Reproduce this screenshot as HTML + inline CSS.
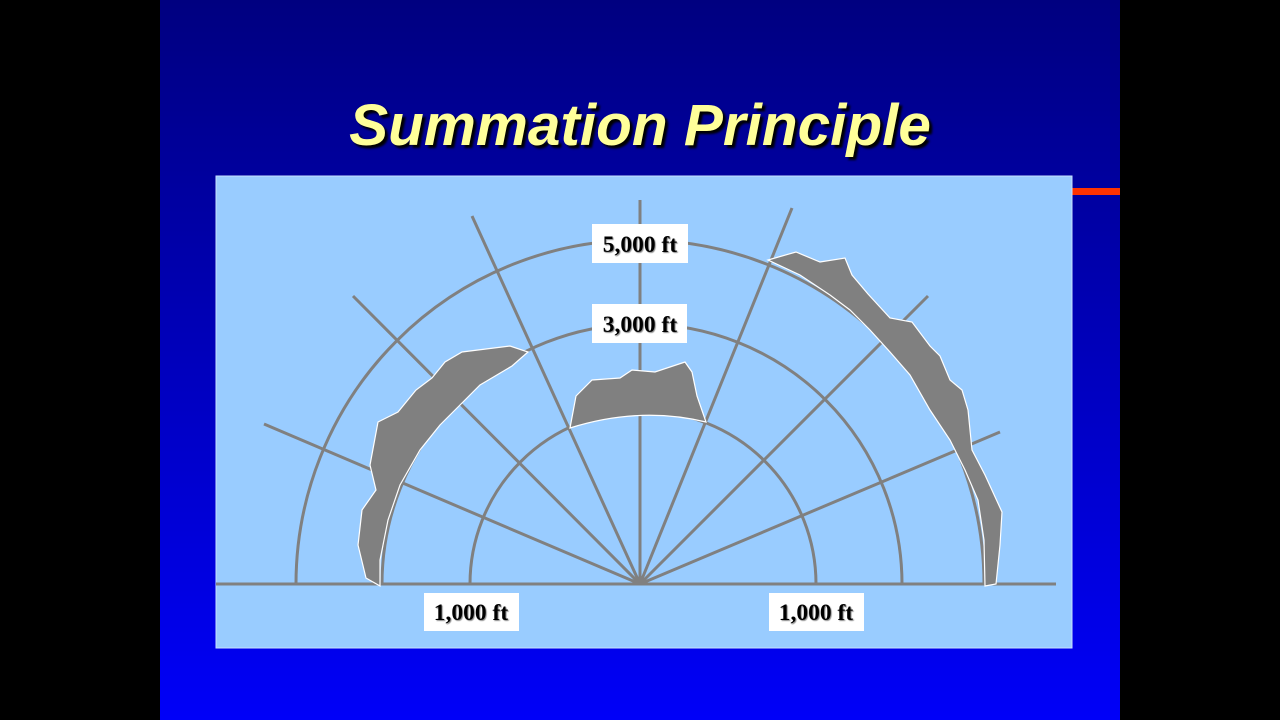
<!DOCTYPE html>
<html><head><style>
body{margin:0;width:1280px;height:720px;background:#000;overflow:hidden;position:relative}
#s{position:absolute;left:160px;top:0;width:960px;height:720px;background:linear-gradient(#000080,#0000f8)}
h1{position:absolute;left:160px;width:960px;top:92px;margin:0;text-align:center;font:italic bold 58.5px "Liberation Sans",sans-serif;color:#ffff99;text-shadow:3px 3px 2px #000}
</style></head><body>
<div id="s"></div>
<h1>Summation Principle</h1>
<div style="position:absolute;left:1072px;top:188px;width:48px;height:7px;background:#ff3300"></div>
<svg style="position:absolute;left:0;top:0" width="1280" height="720">
<rect x="216" y="176" width="856" height="472" fill="#99ccff" stroke="#c8e0ff" stroke-width="1"/>
<g stroke="#808080" stroke-width="3" fill="none">
<path d="M470 584 A173 173 0 0 1 816 584"/>
<path d="M382 584 A260 260 0 0 1 902 584"/>
<path d="M296 584 A344 344 0 0 1 984 584"/>
<line x1="216" y1="584" x2="1056" y2="584"/>
<line x1="640" y1="584" x2="640" y2="200"/>
<line x1="640" y1="584" x2="472" y2="216"/>
<line x1="640" y1="584" x2="353" y2="296"/>
<line x1="640" y1="584" x2="264" y2="424"/>
<line x1="640" y1="584" x2="792" y2="208"/>
<line x1="640" y1="584" x2="928" y2="296"/>
<line x1="640" y1="584" x2="1000" y2="432"/>
</g>
<g fill="#808080" stroke="#fff" stroke-width="1.2">
<path d="M380 586 L366 578 L358 545 L362 510 L376 490 L370 465 L378 422 L398 412 L416 390 L432 378 L445 362 L462 352 L510 346 L528 352 L512 366 L480 385 L460 405 L440 425 L420 450 L400 485 L388 520 L380 560 Z"/>
<path d="M570 428 L576 396 L592 380 L620 378 L632 370 L655 372 L685 362 L692 372 L697 396 L706 422 Q640 406 570 428 Z"/>
<path d="M768 260 L796 252 L820 262 L845 258 L852 275 L868 294 L890 318 L912 322 L930 346 L940 356 L950 380 L962 390 L968 410 L972 450 L985 475 L1002 512 L1000 545 L996 584 L985 586 L984 540 L978 500 L965 470 L950 440 L930 410 L910 375 L890 352 L870 330 L850 310 L830 295 L800 275 Z"/>
</g>
<g fill="#fff">
<rect x="592" y="224" width="96" height="39"/>
<rect x="592" y="304" width="95" height="39"/>
<rect x="424" y="593" width="95" height="38"/>
<rect x="769" y="593" width="95" height="38"/>
</g>
<g font-family="Liberation Serif,serif" font-weight="bold" font-size="23.5" text-anchor="middle" fill="#000" style="text-shadow:1px 1px 1px #888">
<text x="640" y="252">5,000 ft</text>
<text x="640" y="332">3,000 ft</text>
<text x="471" y="620">1,000 ft</text>
<text x="816" y="620">1,000 ft</text>
</g>
</svg>
</body></html>
